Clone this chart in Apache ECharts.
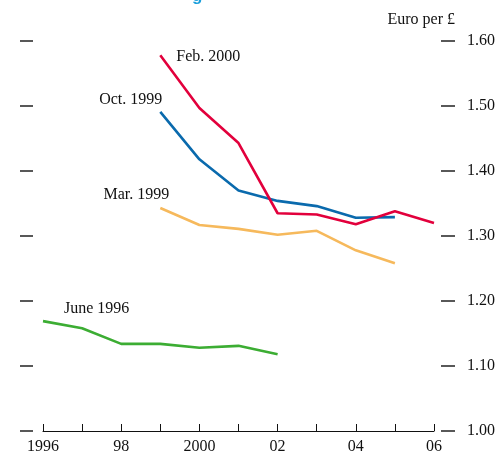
<!DOCTYPE html>
<html><head><meta charset="utf-8">
<script src="https://cdn.jsdelivr.net/npm/echarts@6/dist/echarts.min.js"></script>
<style>html,body{margin:0;padding:0;background:#fff}#c{width:498px;height:456px}</style>
</head><body><div id="c"></div>
<script>
const xTicks = [1996, 2006];
const yTicks = [1.0, 1.6];
const yearLabels = {1996:'1996', 1998:'98', 2000:'2000', 2002:'02', 2004:'04', 2006:'06'};

const june1996Years = [1996, 1997, 1998, 1999, 2000, 2001, 2002];
const june1996Vals  = [1.169, 1.158, 1.134, 1.134, 1.128, 1.131, 1.118];
const mar1999Years  = [1999, 2000, 2001, 2002, 2003, 2004, 2005];
const mar1999Vals   = [1.343, 1.317, 1.311, 1.302, 1.308, 1.278, 1.258];
const oct1999Years  = [1999, 2000, 2001, 2002, 2003, 2004, 2005];
const oct1999Vals   = [1.491, 1.418, 1.370, 1.354, 1.346, 1.328, 1.329];
const feb2000Years  = [1999, 2000, 2001, 2002, 2003, 2004, 2005, 2006];
const feb2000Vals   = [1.578, 1.497, 1.443, 1.335, 1.333, 1.318, 1.338, 1.320];

const FONT = 'Liberation Serif';
const FS = 16;
function mk(name, years, vals, color, lbl) {
  const data = years.map((y, i) => {
    const d = { value: [y, vals[i]] };
    if (i === 0) d.label = Object.assign({ show: true, formatter: name, color: '#111', fontFamily: FONT, fontSize: FS }, lbl);
    return d;
  });
  return { type: 'line', name, data, yAxisIndex: 0, symbol: 'circle', symbolSize: 0, showSymbol: true,
    lineStyle: { color, width: 2.6 }, itemStyle: { color }, silent: true, animation: false };
}

const chart = echarts.init(document.getElementById('c'));
chart.setOption({
  animation: false,
  grid: { left: 43, right: 63, top: 41, bottom: 25 },
  graphic: [
    { type: 'text', right: 43, top: 12, style: { text: 'Euro per £', font: FS + 'px "Liberation Serif"', fill: '#111' } },
    { type: 'text', left: 192, top: -12, style: { text: 'g', font: 'bold 17px "Liberation Sans"', fill: '#1a9fdc' } }
  ],
  xAxis: {
    type: 'value', min: xTicks[0], max: xTicks[1], interval: 1,
    axisLine: { show: true, lineStyle: { color: '#111', width: 1 } },
    axisTick: { show: true, inside: true, length: 7, lineStyle: { color: '#111', width: 1 } },
    axisLabel: { margin: 8, fontFamily: FONT, fontSize: FS, color: '#111',
      formatter: v => yearLabels[v] || '' },
    splitLine: { show: false }
  },
  yAxis: [
    { type: 'value', position: 'right', min: yTicks[0], max: yTicks[1], interval: 0.1, offset: 7,
      axisLine: { show: false },
      axisTick: { show: true, length: 14, lineStyle: { color: '#222', width: 1.5 } },
      axisLabel: { margin: 26, fontFamily: FONT, fontSize: FS, color: '#111', formatter: v => v.toFixed(2) },
      splitLine: { show: false } },
    { type: 'value', position: 'left', min: yTicks[0], max: yTicks[1], interval: 0.1, offset: 10,
      axisLine: { show: false },
      axisTick: { show: true, length: 13, lineStyle: { color: '#222', width: 1.5 } },
      axisLabel: { show: false }, splitLine: { show: false } }
  ],
  series: [
    mk('June 1996', june1996Years, june1996Vals, '#3cad33', { position: 'right', distance: 0, offset: [21, -12] }),
    mk('Mar. 1999', mar1999Years, mar1999Vals, '#f6b95c', { position: 'left', distance: 0, offset: [9, -13] }),
    mk('Oct. 1999', oct1999Years, oct1999Vals, '#0a6aad', { position: 'left', distance: 0, offset: [2, -12] }),
    mk('Feb. 2000', feb2000Years, feb2000Vals, '#e2003c', { position: 'right', distance: 0, offset: [16, 1] })
  ]
});
</script></body></html>
